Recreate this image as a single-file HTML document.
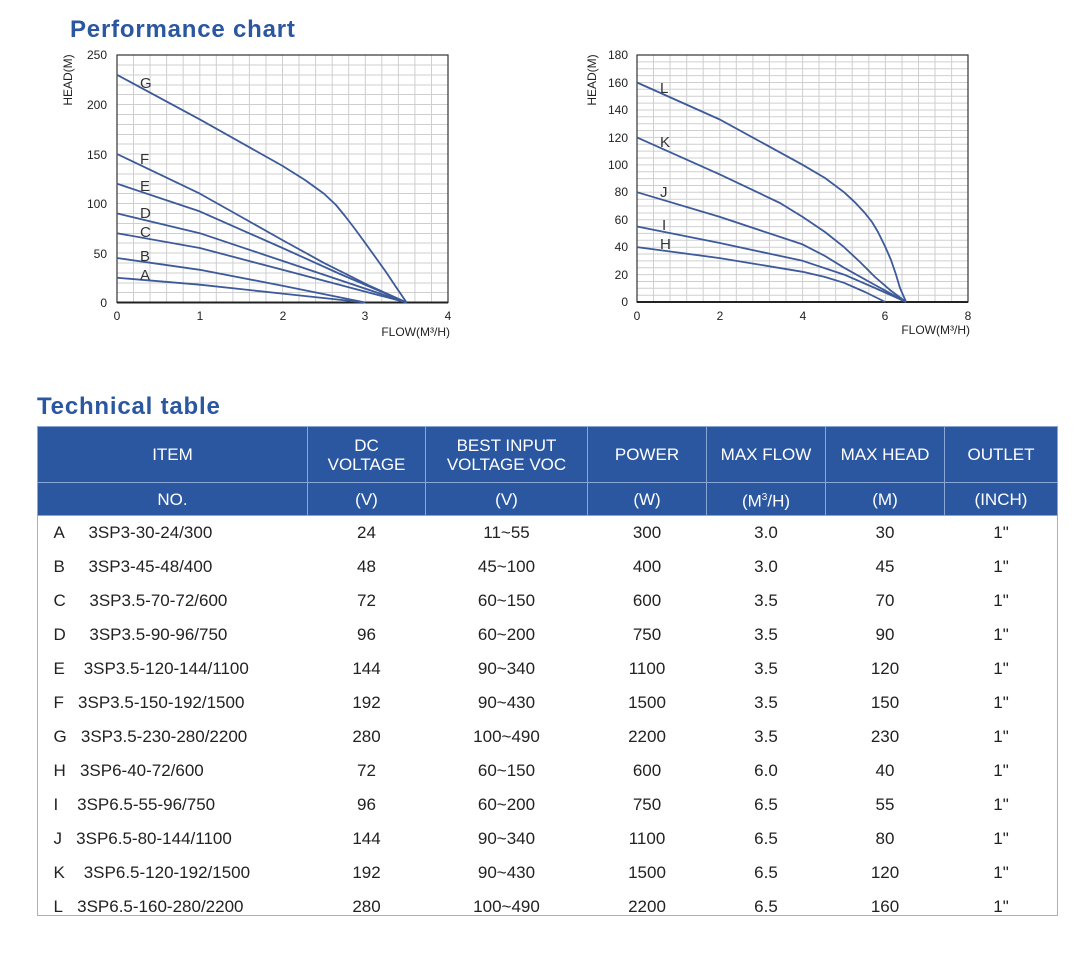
<!DOCTYPE html>
<html><head><meta charset="utf-8"><style>
body{margin:0;width:1080px;height:959px;background:#fff;font-family:"Liberation Sans",sans-serif;position:relative;overflow:hidden}
.t{position:absolute;color:#2b57a0;font-weight:bold;font-size:24px;letter-spacing:0.8px}
table{position:absolute;left:37px;top:426px;border-collapse:collapse;width:1020px;table-layout:fixed}
th{background:#2b57a0;color:#fff;font-weight:normal;font-size:17px;border:1px solid #8aa6d4;line-height:19px}
td{font-size:17px;color:#222;text-align:center;height:34px;padding:0}
td.n{text-align:left;padding-left:16px}
.wrap{position:absolute;left:37px;top:426px;width:1019px;height:489px;border:1px solid #9db2d8;border-top:none}
</style></head><body>
<div class="t" style="left:70px;top:16px">Performance chart</div>
<div class="t" style="left:37px;top:393px">Technical table</div>
<svg width="1080" height="360" style="position:absolute;left:0;top:0" font-family="Liberation Sans" font-size="12" fill="#222">
<g stroke="#cfcfcf" stroke-width="1">
<path d="M133.5 55V302M150 55V302M166.6 55V302M183.2 55V302M199.8 55V302M216.3 55V302M232.9 55V302M249.4 55V302M266 55V302M282.5 55V302M299 55V302M315.6 55V302M332.2 55V302M348.7 55V302M365.3 55V302M381.8 55V302M398.4 55V302M414.9 55V302M431.5 55V302"/>
<path d="M117 65H448M117 75H448M117 85H448M117 94.5H448M117 104.5H448M117 114.5H448M117 124.5H448M117 134.5H448M117 144H448M117 154H448M117 164H448M117 174H448M117 184H448M117 193.5H448M117 203.5H448M117 213.5H448M117 223.5H448M117 233.5H448M117 243H448M117 253H448M117 263H448M117 273H448M117 283H448M117 292.5H448"/>
</g>
<rect x="117" y="55" width="331" height="247.5" fill="none" stroke="#333" stroke-width="1.2"/>
<line x1="117" y1="302.5" x2="448" y2="302.5" stroke="#222" stroke-width="2"/>
<g stroke="#3d5a9a" stroke-width="1.8" fill="none" stroke-linejoin="round">
<polyline points="117,74.8 199.8,119.4 282.5,165.9 305,180 323.9,193.6 336,205 345,216 355,229 365.3,243.1 376,258 386,272 396,287 406.6,302.5"/>
<polyline points="117,154 199.8,193.6 282.5,240.1 323.9,262.9 370,286 406.6,302.5"/>
<polyline points="117,183.7 199.8,211.4 282.5,248 340,274 406.6,302.5"/>
<polyline points="117,213.4 199.8,233.2 282.5,260.9 406.6,302.5"/>
<polyline points="117,233.2 199.8,248 282.5,269.8 406.6,302.5"/>
<polyline points="117,258 199.8,269.8 282.5,285.7 365.3,302.5"/>
<polyline points="117,277.75 199.8,284.7 282.5,293.6 365.3,302.5"/>
</g>
<g font-size="15" fill="#333"><text x="140" y="88">G</text><text x="140" y="164">F</text><text x="140" y="191">E</text><text x="140" y="218">D</text><text x="140" y="237">C</text><text x="140" y="261">B</text><text x="140" y="280">A</text></g>
<g text-anchor="end"><text x="107" y="59">250</text><text x="107" y="109">200</text><text x="107" y="159">150</text><text x="107" y="208">100</text><text x="107" y="258">50</text><text x="107" y="307">0</text></g>
<g text-anchor="middle"><text x="117" y="320">0</text><text x="200" y="320">1</text><text x="283" y="320">2</text><text x="365" y="320">3</text><text x="448" y="320">4</text></g>
<text x="450" y="336" text-anchor="end">FLOW(M³/H)</text>
<text transform="translate(72,80) rotate(-90)" text-anchor="middle">HEAD(M)</text>
<g stroke="#cfcfcf" stroke-width="1">
<path d="M653.5 55V302M670 55V302M686.7 55V302M703.2 55V302M719.8 55V302M736.3 55V302M752.9 55V302M769.4 55V302M786 55V302M802.6 55V302M819 55V302M835.7 55V302M852.2 55V302M868.8 55V302M885.4 55V302M902 55V302M918.5 55V302M935 55V302M951.6 55V302"/>
<path d="M637 61.9H968M637 68.7H968M637 75.6H968M637 82.5H968M637 89.3H968M637 96.2H968M637 103.1H968M637 110H968M637 116.8H968M637 123.7H968M637 130.5H968M637 137.4H968M637 144.3H968M637 151.1H968M637 158H968M637 164.9H968M637 171.7H968M637 178.6H968M637 185.5H968M637 192.3H968M637 199.2H968M637 206H968M637 213H968M637 219.7H968M637 226.6H968M637 233.4H968M637 240.3H968M637 247.2H968M637 254H968M637 260.9H968M637 267.7H968M637 274.6H968M637 281.5H968M637 288.3H968M637 295.2H968"/>
</g>
<rect x="637" y="55" width="331" height="247" fill="none" stroke="#333" stroke-width="1.2"/>
<line x1="637" y1="302" x2="968" y2="302" stroke="#222" stroke-width="2"/>
<g stroke="#3d5a9a" stroke-width="1.8" fill="none" stroke-linejoin="round">
<polyline points="637,82.5 719.8,119.5 802.6,164.8 825,178 844,192.2 854.4,201.8 864.7,212.8 872,222 878,232 885.4,247.1 891,260 895.8,274 900,288 906.1,302"/>
<polyline points="637,137.4 719.8,174.4 780,203 802.6,216.9 825,232 844,247.1 860,262 875,277 890,290 906.1,302"/>
<polyline points="637,192.2 719.8,216.9 802.6,244.4 825,256 844,267.7 875,285 906.1,302"/>
<polyline points="637,226.5 719.8,243 802.6,260.8 844,274.6 875,288 906.1,302"/>
<polyline points="637,247.1 719.8,258.1 802.6,271.8 825,277 844,282.8 865,292 885.4,302"/>
</g>
<g font-size="15" fill="#333"><text x="660" y="93">L</text><text x="660" y="147">K</text><text x="660" y="197">J</text><text x="662" y="230">I</text><text x="660" y="249">H</text></g>
<g text-anchor="end"><text x="628" y="59">180</text><text x="628" y="87">160</text><text x="628" y="114">140</text><text x="628" y="142">120</text><text x="628" y="169">100</text><text x="628" y="196">80</text><text x="628" y="224">60</text><text x="628" y="251">40</text><text x="628" y="279">20</text><text x="628" y="306">0</text></g>
<g text-anchor="middle"><text x="637" y="320">0</text><text x="720" y="320">2</text><text x="803" y="320">4</text><text x="885" y="320">6</text><text x="968" y="320">8</text></g>
<text x="970" y="334" text-anchor="end">FLOW(M³/H)</text>
<text transform="translate(596,80) rotate(-90)" text-anchor="middle">HEAD(M)</text>
</svg>
<div class="wrap"></div>
<table>
<colgroup><col style="width:270px"><col style="width:118px"><col style="width:162px"><col style="width:119px"><col style="width:119px"><col style="width:119px"><col style="width:113px"></colgroup>
<tr style="height:56px"><th>ITEM</th><th>DC<br>VOLTAGE</th><th>BEST INPUT<br>VOLTAGE VOC</th><th>POWER</th><th>MAX FLOW</th><th>MAX HEAD</th><th>OUTLET</th></tr>
<tr style="height:33px"><th>NO.</th><th>(V)</th><th>(V)</th><th>(W)</th><th>(M<sup style="font-size:10px">3</sup>/H)</th><th>(M)</th><th>(INCH)</th></tr>
<tr><td class="n">A&nbsp;&nbsp;&nbsp;&nbsp;&nbsp;3SP3-30-24/300</td><td>24</td><td>11~55</td><td>300</td><td>3.0</td><td>30</td><td>1"</td></tr>
<tr><td class="n">B&nbsp;&nbsp;&nbsp;&nbsp;&nbsp;3SP3-45-48/400</td><td>48</td><td>45~100</td><td>400</td><td>3.0</td><td>45</td><td>1"</td></tr>
<tr><td class="n">C&nbsp;&nbsp;&nbsp;&nbsp;&nbsp;3SP3.5-70-72/600</td><td>72</td><td>60~150</td><td>600</td><td>3.5</td><td>70</td><td>1"</td></tr>
<tr><td class="n">D&nbsp;&nbsp;&nbsp;&nbsp;&nbsp;3SP3.5-90-96/750</td><td>96</td><td>60~200</td><td>750</td><td>3.5</td><td>90</td><td>1"</td></tr>
<tr><td class="n">E&nbsp;&nbsp;&nbsp;&nbsp;3SP3.5-120-144/1100</td><td>144</td><td>90~340</td><td>1100</td><td>3.5</td><td>120</td><td>1"</td></tr>
<tr><td class="n">F&nbsp;&nbsp;&nbsp;3SP3.5-150-192/1500</td><td>192</td><td>90~430</td><td>1500</td><td>3.5</td><td>150</td><td>1"</td></tr>
<tr><td class="n">G&nbsp;&nbsp;&nbsp;3SP3.5-230-280/2200</td><td>280</td><td>100~490</td><td>2200</td><td>3.5</td><td>230</td><td>1"</td></tr>
<tr><td class="n">H&nbsp;&nbsp;&nbsp;3SP6-40-72/600</td><td>72</td><td>60~150</td><td>600</td><td>6.0</td><td>40</td><td>1"</td></tr>
<tr><td class="n">I&nbsp;&nbsp;&nbsp;&nbsp;3SP6.5-55-96/750</td><td>96</td><td>60~200</td><td>750</td><td>6.5</td><td>55</td><td>1"</td></tr>
<tr><td class="n">J&nbsp;&nbsp;&nbsp;3SP6.5-80-144/1100</td><td>144</td><td>90~340</td><td>1100</td><td>6.5</td><td>80</td><td>1"</td></tr>
<tr><td class="n">K&nbsp;&nbsp;&nbsp;&nbsp;3SP6.5-120-192/1500</td><td>192</td><td>90~430</td><td>1500</td><td>6.5</td><td>120</td><td>1"</td></tr>
<tr><td class="n">L&nbsp;&nbsp;&nbsp;3SP6.5-160-280/2200</td><td>280</td><td>100~490</td><td>2200</td><td>6.5</td><td>160</td><td>1"</td></tr>
</table>
</body></html>
